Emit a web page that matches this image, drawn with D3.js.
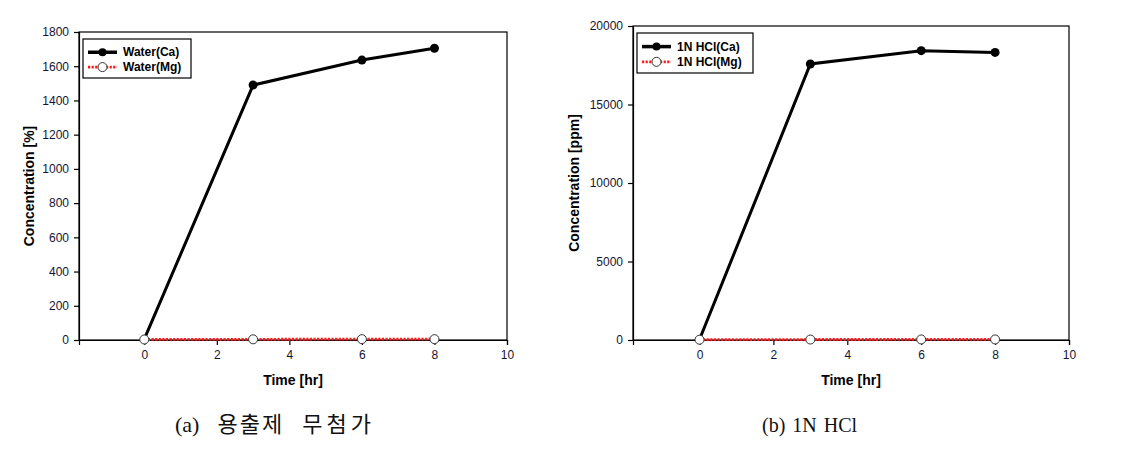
<!DOCTYPE html>
<html><head><meta charset="utf-8">
<script src="https://cdn.jsdelivr.net/npm/d3@7/dist/d3.min.js"></script>
<style>body{margin:0;background:#fff}svg{display:block}</style>
</head><body><svg id="c" width="1131" height="466"></svg>
<script>
const times = [0, 3, 6, 8];
const waterCa = [5, 1490, 1636, 1705];
const waterMg = [3, 4, 5, 5];
const hclCa = [30, 17580, 18430, 18320];
const hclMg = [20, 30, 35, 35];
const xTicks = [0, 2, 4, 6, 8, 10];
const leftYTicks = [0, 200, 400, 600, 800, 1000, 1200, 1400, 1600, 1800];
const rightYTicks = [0, 5000, 10000, 15000, 20000];
const leftLabels = ["Water(Ca)", "Water(Mg)"];
const rightLabels = ["1N HCl(Ca)", "1N HCl(Mg)"];
const yTitles = ["Concentration [%]", "Concentration [ppm]"];
const xTitle = "Time [hr]";
const captions = ["(a) 용출제 무첨가", "(b) 1N HCl"];

const svg = d3.select("#c");
const tickColor = "#141432";
const sans = "Liberation Sans, Arial, sans-serif";

function panel(o) {
  const g = svg.append("g");
  const x = d3.scaleLinear().domain([-1.8, 10]).range([o.x0, o.x1]);
  const y = d3.scaleLinear().domain([0, o.ymax]).range([340, o.yTop]);
  g.append("rect").attr("x", o.x0).attr("y", o.yTop).attr("width", o.x1 - o.x0).attr("height", 340 - o.yTop)
    .attr("fill", "none").attr("stroke", "#000").attr("stroke-width", 1.2);
  const xa = g.append("g").attr("transform", "translate(0,340)")
    .call(d3.axisBottom(x).tickValues(xTicks).tickSize(5).tickPadding(5).tickFormat(d3.format("d")));
  const ya = g.append("g").attr("transform", `translate(${o.x0},0)`)
    .call(d3.axisLeft(y).tickValues(o.yTicks).tickSize(5).tickPadding(5).tickFormat(d3.format("d")));
  [xa, ya].forEach(a => {
    a.select(".domain").attr("stroke", "#000").attr("stroke-width", 1.2);
    a.selectAll(".tick line").attr("stroke", "#000").attr("stroke-width", 1.2);
    a.selectAll(".tick text").attr("fill", tickColor).style("font-family", sans).style("font-size", "12px");
  });
  g.append("text").attr("transform", `translate(${o.yTitleX},${(340 + o.yTop) / 2}) rotate(-90)`)
    .attr("text-anchor", "middle").attr("dominant-baseline", "central")
    .style("font-family", sans).style("font-weight", "bold").style("font-size", "14px")
    .text(o.yTitle);
  g.append("text").attr("x", o.xTitleX).attr("y", 385).attr("text-anchor", "middle")
    .style("font-family", sans).style("font-weight", "bold").style("font-size", "14px")
    .text(xTitle);
  const line = d3.line().x(d => x(d[0])).y(d => y(d[1]));
  const mg = times.map((t, i) => [t, o.mg[i]]);
  const ca = times.map((t, i) => [t, o.ca[i]]);
  g.append("path").datum(mg).attr("d", line).attr("fill", "none").attr("stroke", "#ff1a1a")
    .attr("stroke-width", 2.8).attr("stroke-dasharray", "2.2,1.4");
  g.append("path").datum(ca).attr("d", line).attr("fill", "none").attr("stroke", "#000").attr("stroke-width", 3);
  g.selectAll(".mgp").data(mg).enter().append("circle").attr("cx", d => x(d[0])).attr("cy", d => y(d[1]))
    .attr("r", 4.5).attr("fill", "#fff").attr("stroke", "#333").attr("stroke-width", 1);
  g.selectAll(".cap").data(ca.slice(1)).enter().append("circle").attr("cx", d => x(d[0])).attr("cy", d => y(d[1]))
    .attr("r", 4.5).attr("fill", "#000");
  const L = o.legend;
  g.append("rect").attr("x", L.x).attr("y", L.y).attr("width", L.w).attr("height", L.h)
    .attr("fill", "#fff").attr("stroke", "#000").attr("stroke-width", 1.2);
  const r1 = L.y + L.h * 0.34, r2 = L.y + L.h * 0.72;
  g.append("line").attr("x1", L.lx0).attr("x2", L.lx1).attr("y1", r1).attr("y2", r1).attr("stroke", "#000").attr("stroke-width", 3.5);
  g.append("circle").attr("cx", (L.lx0 + L.lx1) / 2).attr("cy", r1).attr("r", 4).attr("fill", "#000");
  g.append("line").attr("x1", L.lx0).attr("x2", L.lx1).attr("y1", r2).attr("y2", r2).attr("stroke", "#ff1a1a").attr("stroke-width", 2.8).attr("stroke-dasharray", "2.2,1.4");
  g.append("circle").attr("cx", (L.lx0 + L.lx1) / 2).attr("cy", r2).attr("r", 4.5).attr("fill", "#fff").attr("stroke", "#333");
  [r1, r2].forEach((ry, i) => g.append("text").attr("x", L.tx).attr("y", ry).attr("dominant-baseline", "central")
    .style("font-family", sans).style("font-weight", "bold").style("font-size", "12px")
    .text(o.labels[i]));
  // caption, split into words with individual spacing
  const t = svg.append("text").attr("x", o.capX).attr("y", 432)
    .style("font-family", "Liberation Serif, 'Noto Sans CJK KR', serif").style("font-size", o.capSize)
    .attr("fill", "#111");
  o.caption.split(" ").forEach((w, i) => {
    t.append("tspan").attr("dx", i === 0 ? 0 : o.capDx[i - 1])
      .style("letter-spacing", o.capLS[i] + "px").text(w);
  });
}

panel({x0: 79, x1: 507, yTop: 32, ymax: 1800, yTicks: leftYTicks, ca: waterCa, mg: waterMg,
  yTitle: yTitles[0], yTitleX: 29, xTitleX: 293, labels: leftLabels,
  legend: {x: 83, y: 39, w: 108, h: 39, lx0: 88, lx1: 117, tx: 123},
  caption: captions[0], capX: 175, capSize: "22px", capLS: [0, 2, 4], capDx: [18, 18]});
panel({x0: 633, x1: 1069, yTop: 26, ymax: 20000, yTicks: rightYTicks, ca: hclCa, mg: hclMg,
  yTitle: yTitles[1], yTitleX: 574, xTitleX: 851, labels: rightLabels,
  legend: {x: 637, y: 33, w: 116, h: 40, lx0: 642, lx1: 671, tx: 677},
  caption: captions[1], capX: 762, capSize: "20px", capLS: [0, 0, 0], capDx: [7, 7]});
</script></body></html>
